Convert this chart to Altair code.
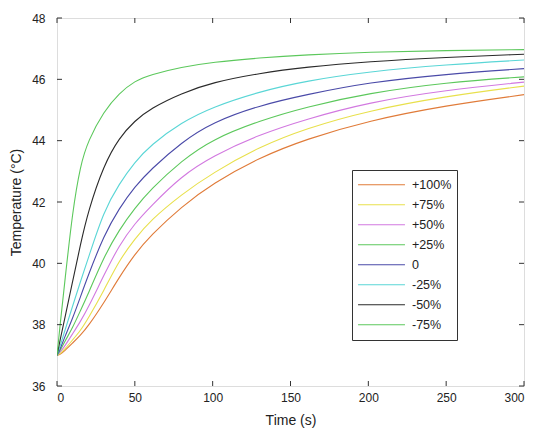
import altair as alt
import pandas as pd

# Time points (s)
time_s = [0, 2, 5, 10, 15, 20, 30, 40, 50, 60, 80, 100, 130, 160, 200, 250, 300]

# Temperature (°C) per series
s_p100 = [37.0, 37.03, 37.15, 37.4, 37.65, 37.95, 38.7, 39.55, 40.3, 40.9, 41.85, 42.6, 43.45, 44.05, 44.65, 45.15, 45.5]
s_p75 = [37.0, 37.05, 37.2, 37.5, 37.8, 38.2, 39.1, 40.1, 40.8, 41.4, 42.25, 42.95, 43.8, 44.4, 44.98, 45.45, 45.78]
s_p50 = [37.0, 37.1, 37.3, 37.7, 38.1, 38.55, 39.6, 40.6, 41.3, 41.85, 42.85, 43.5, 44.2, 44.7, 45.25, 45.65, 45.91]
s_p25 = [37.0, 37.15, 37.45, 37.9, 38.45, 39.0, 40.2, 41.1, 41.8, 42.4, 43.35, 44.05, 44.65, 45.1, 45.55, 45.9, 46.08]
s_0 = [37.0, 37.2, 37.6, 38.2, 38.9, 39.6, 40.9, 41.8, 42.5, 43.05, 43.95, 44.6, 45.15, 45.5, 45.9, 46.17, 46.35]
s_m25 = [37.0, 37.3, 37.8, 38.6, 39.4, 40.15, 41.7, 42.6, 43.3, 43.85, 44.6, 45.1, 45.6, 45.95, 46.25, 46.48, 46.63]
s_m50 = [37.0, 37.5, 38.2, 39.4, 40.6, 41.7, 43.2, 44.1, 44.65, 45.05, 45.55, 45.9, 46.2, 46.4, 46.58, 46.72, 46.82]
s_m75 = [37.0, 38.0, 39.4, 41.7, 43.2, 44.0, 44.95, 45.55, 45.95, 46.15, 46.4, 46.56, 46.7, 46.8, 46.89, 46.94, 46.97]

series_names = ["+100%", "+75%", "+50%", "+25%", "0", "-25%", "-50%", "-75%"]
series_values = [s_p100, s_p75, s_p50, s_p25, s_0, s_m25, s_m50, s_m75]
series_colors = ["#e07b39", "#e8e04c", "#d279e0", "#5cc85c", "#4a4aa8", "#5ad6d6", "#2a2a2a", "#5cc85c"]

x_ticks = [0, 50, 100, 150, 200, 250, 300]
y_ticks = [36, 38, 40, 42, 44, 46, 48]

rows = []
for name, vals in zip(series_names, series_values):
    for t, v in zip(time_s, vals):
        rows.append({"t": t, "T": v, "series": name})
df = pd.DataFrame(rows)

W, H = 467, 368
FONT = "Liberation Sans"

xscale = alt.Scale(domain=[0, 300], nice=False, zero=False)
yscale = alt.Scale(domain=[36, 48], nice=False, zero=False)

lines = alt.Chart(df).mark_line(strokeWidth=1.1, interpolate="basis", clip=True).encode(
    x=alt.X("t:Q", scale=xscale,
            axis=alt.Axis(title="Time (s)", values=x_ticks, ticks=False, domain=False, grid=False,
                          labelPadding=6, titlePadding=10, labelFontSize=12, titleFontSize=14,
                          labelFont=FONT, titleFont=FONT, labelColor="#222", titleColor="#222",
                          titleFontWeight="normal")),
    y=alt.Y("T:Q", scale=yscale,
            axis=alt.Axis(title="Temperature (°C)", values=y_ticks, ticks=False, domain=False, grid=False,
                          labelPadding=12, titlePadding=8, labelFontSize=12, titleFontSize=14,
                          labelFont=FONT, titleFont=FONT, labelColor="#222", titleColor="#222",
                          titleFontWeight="normal")),
    color=alt.Color("series:N", sort=series_names,
                    scale=alt.Scale(domain=series_names, range=series_colors),
                    legend=alt.Legend(title=None, orient="none", legendX=295, legendY=152,
                                      symbolType="stroke", symbolSize=2200, symbolStrokeWidth=1.2,
                                      clipHeight=19.5, labelFontSize=12.5, labelFont=FONT,
                                      labelColor="#222", labelOffset=6, padding=5,
                                      strokeColor="#333", fillColor="white", rowPadding=0)),
    detail="series:N",
)

xt_df = pd.DataFrame({"t": x_ticks})
yt_df = pd.DataFrame({"T": y_ticks})

tick_bottom = alt.Chart(xt_df).mark_rule(color="#333", strokeWidth=1).encode(
    x=alt.X("t:Q", scale=xscale), y=alt.value(H), y2=alt.value(H - 5))
tick_top = alt.Chart(xt_df).mark_rule(color="#333", strokeWidth=1).encode(
    x=alt.X("t:Q", scale=xscale), y=alt.value(0), y2=alt.value(5))
tick_left = alt.Chart(yt_df).mark_rule(color="#333", strokeWidth=1).encode(
    y=alt.Y("T:Q", scale=yscale), x=alt.value(0), x2=alt.value(5))
tick_right = alt.Chart(yt_df).mark_rule(color="#333", strokeWidth=1).encode(
    y=alt.Y("T:Q", scale=yscale), x=alt.value(W), x2=alt.value(W - 5))

chart = alt.layer(lines, tick_bottom, tick_top, tick_left, tick_right).properties(
    width=W, height=H,
    autosize=alt.AutoSizeParams(type="none"),
    padding={"left": 57, "top": 18, "right": 12, "bottom": 47},
).configure_view(stroke="#333", strokeWidth=1).configure(background="white")

chart.save("out.html", embed_options={"renderer": "svg", "actions": False})
